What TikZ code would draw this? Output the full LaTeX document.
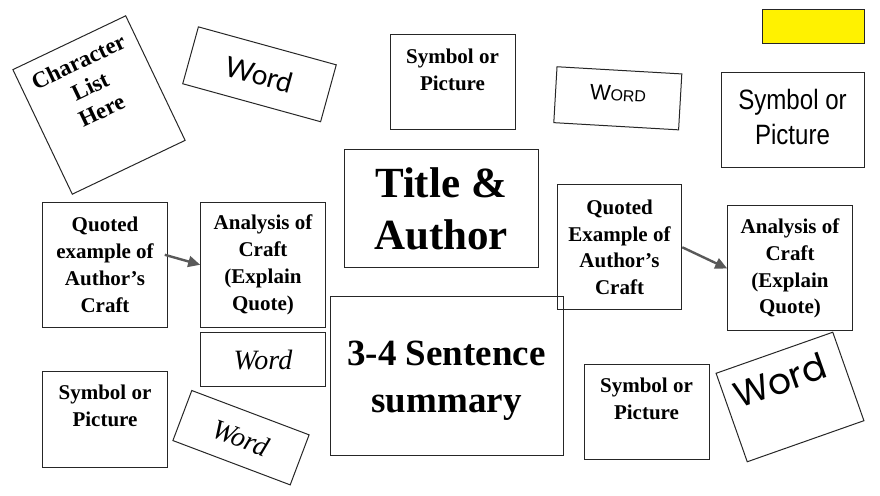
\documentclass[tikz,border=0pt]{standalone}
\usepackage{fontspec}
\setmainfont{Liberation Serif}
\newfontfamily\sansnarrow[FakeStretch=0.86]{Liberation Sans}
\newfontfamily\sansplain{Liberation Sans}
\newfontfamily\sanshum{Lato}
\newfontfamily\sansgeo{Poppins}
\usetikzlibrary{arrows.meta}
\newcommand{\fsz}[2]{\fontsize{#1}{#2}\selectfont}

\begin{document}
\begin{tikzpicture}[x=1pt,y=1pt,>={Triangle[length=12pt,width=11pt]},
    card/.style={draw=black!85,line width=1pt,inner sep=0pt,align=center},
    txt/.style={inner sep=0pt,align=center},
    bold/.style={font=\bfseries\fsz{21}{26.7}},
    arr/.style={->,draw=black!65,line width=2.4pt}]
\useasboundingbox (0,0) rectangle (880,495);
% top row
\node[card,fill=yellow,line width=0.8pt,minimum width=102pt,minimum height=34pt] (flag) at (813,469) {};
\begin{scope}[shift={(99,390)},rotate=25.5]
    \node[card,minimum width=125pt,minimum height=138pt,transform shape] (charbox) at (0,0) {};
    \node[txt,font=\bfseries\fsz{23}{27},transform shape] (chartext) at (0,21) {Character\\List\\Here};
\end{scope}
\node[card,minimum width=143pt,minimum height=59pt,rotate=-15.4,font=\sanshum\fsz{28}{28}] (wordA) at (259.5,420.7) {Word};
\node[card,minimum width=125pt,minimum height=95pt] (symA) at (452.5,412.5) {};
\node[txt,bold] (symAtext) at ([yshift=13pt]symA.center) {Symbol or\\Picture};
\begin{scope}[shift={(617.8,396.7)},rotate=-3.3]
    \node[card,minimum width=125pt,minimum height=56pt,transform shape] (wordB) at (0,0) {};
    \node[txt,font=\sansplain,transform shape] (wordBtext) at (0,5) {\fsz{22}{22}W\fsz{16}{16}ORD};
\end{scope}
\node[card,minimum width=143pt,minimum height=95pt] (symB) at (792.5,374.5) {};
\node[txt,font=\sansnarrow\fsz{28}{35}] (symBtext) at ([yshift=4pt]symB.center) {Symbol or\\Picture};
% middle
\node[card,minimum width=194pt,minimum height=118pt,font=\bfseries\fsz{43}{52}] (title) at (441,286) {Title \&\\Author};
\node[card,bold,minimum width=124.6pt,minimum height=125pt] (quoteL) at (105,230.2) {Quoted\\example of\\Author’s\\Craft};
\node[card,bold,minimum width=124.6pt,minimum height=125pt] (analL) at (263,230.2) {Analysis of\\Craft\\(Explain\\Quote)};
\node[card,bold,minimum width=124.6pt,minimum height=125pt] (quoteR) at (619.5,247.7) {Quoted\\Example of\\Author’s\\Craft};
\node[card,bold,minimum width=124.6pt,minimum height=125pt] (analR) at (790,226.5) {Analysis of\\Craft\\(Explain\\Quote)};
\draw[arr] ([xshift=-3pt,yshift=10pt]quoteL.east) -- (analL.west);
\draw[arr] (quoteR.east) -- (analR.west);
% bottom row
\node[card,minimum width=124.6pt,minimum height=53.3pt,font=\itshape\fsz{28}{28}] (wordC) at (263,135.5) {Word};
\node[card,minimum width=233pt,minimum height=158pt] (summary) at (446.5,119) {};
\node[txt,font=\bfseries\fsz{37}{47}] (summarytext) at ([yshift=-5pt]summary.center) {3-4 Sentence\\summary};
\node[card,minimum width=125.4pt,minimum height=53.5pt,rotate=-20.7,font=\itshape\fsz{28}{28}] (wordD) at (241,57.3) {Word};
\node[card,minimum width=124.6pt,minimum height=95pt] (symC) at (105,75.5) {};
\node[txt,bold] (symCtext) at ([yshift=13.5pt]symC.center) {Symbol or\\Picture};
\node[card,minimum width=125pt,minimum height=95pt] (symD) at (646.5,83.3) {};
\node[txt,bold] (symDtext) at ([yshift=12.8pt]symD.center) {Symbol or\\Picture};
\begin{scope}[shift={(790,98)},rotate=19.4]
    \node[card,minimum width=123.7pt,minimum height=93.8pt,transform shape] (wordE) at (0,0) {};
    \node[txt,font=\sansgeo\fsz{36}{36},transform shape] (wordEtext) at (-4,19) {Word};
\end{scope}
\end{tikzpicture}
\end{document}
